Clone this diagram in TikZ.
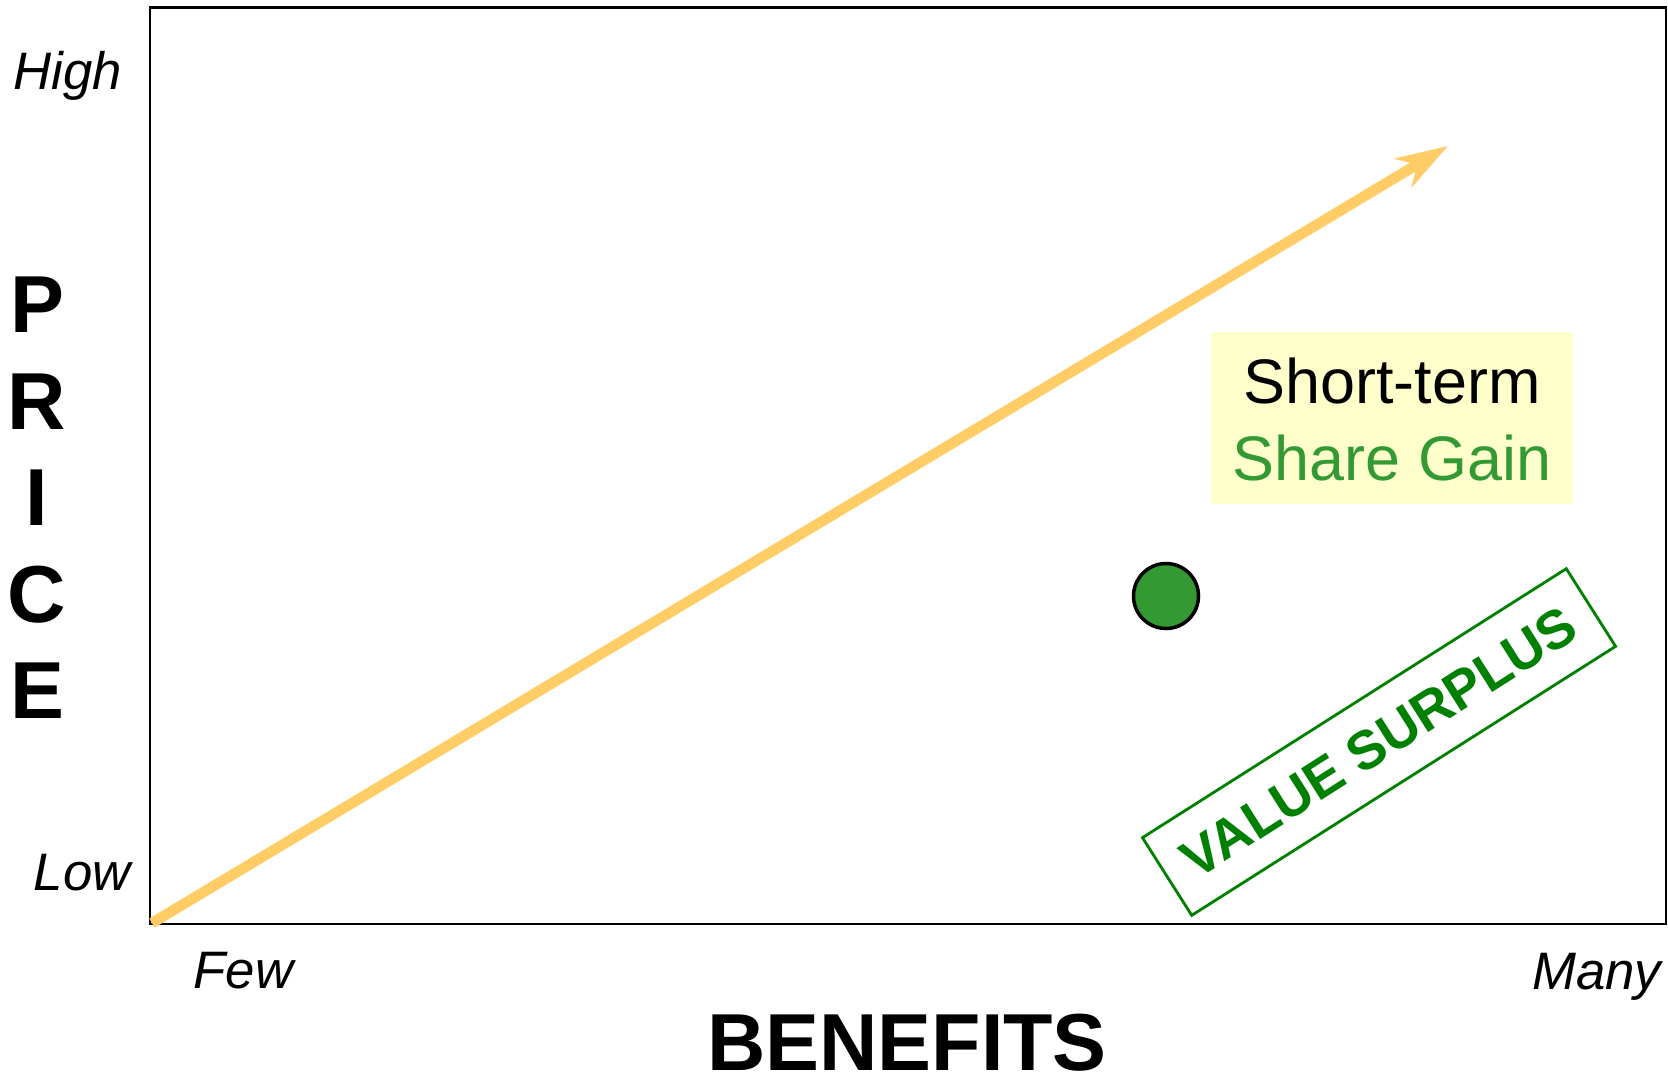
\documentclass[tikz,border=0pt]{standalone}
\usepackage{fontspec}
\setmainfont{Liberation Sans}
\usetikzlibrary{arrows.meta}
\usetikzlibrary{positioning}

\definecolor{arrowgold}{HTML}{FFCC66}
\definecolor{dotgreen}{HTML}{339933}
\definecolor{boxyellow}{HTML}{FFFFCC}
\definecolor{surplusgreen}{HTML}{008000}

\tikzset{
 axislabel/.style={inner sep=0, font=\itshape\fontsize{15}{18}\selectfont},
 axistitle/.style={inner sep=0, font=\bfseries\fontsize{23}{27}\selectfont},
 gaintext/.style={inner sep=0, font=\fontsize{17.9}{21.9}\selectfont}
}

\begin{document}
\begin{tikzpicture}
\useasboundingbox (0,0) rectangle (16.68,-10.76);
\draw[black, line width=0.8pt] (1.50,-0.075) rectangle (16.66,-9.24);

% axis ends
\node[axislabel, anchor=base west] (high) at (0.13,-0.89) {High};
\node[axislabel, anchor=base west] (low) at (0.33,-8.90) {Low};
\node[axislabel, anchor=base west] (few) at (1.93,-9.88) {Few};
\node[axislabel, anchor=base east] (many) at (16.62,-9.89) {Many};

% axis titles
\node[axistitle, anchor=base] (benefits) at (9.07,-10.70) {BENEFITS};
\foreach \letter/\y in {P/3.32, R/4.29, I/5.25, C/6.22, E/7.18} {
 \node[axistitle, anchor=base] (price-\letter) at (0.37,-\y) {\letter};
}

% trend line
\coordinate (origin) at (1.52,-9.23);
\coordinate (trendtip) at (14.48,-1.46);
\draw[arrowgold, line width=3pt, -{Stealth[length=5.2mm, width=3.3mm, inset=1.6mm]}] (origin) -- (trendtip);

\node[fill=boxyellow, minimum width=3.62cm, minimum height=1.72cm, inner sep=0] (gainbox) at (13.92,-4.18) {};
\node[gaintext, anchor=base] (shortterm) at (13.92,-4.03) {Short-term};
\node[gaintext, anchor=base, text=dotgreen] (sharegain) at (13.92,-4.80) {Share Gain};

\node[circle, draw=black, fill=dotgreen, line width=1pt, minimum size=0.65cm, inner sep=0] (product) at (11.66,-5.96) {};

\node[draw=surplusgreen, text=surplusgreen, line width=0.8pt, rotate=32.4, minimum width=5.02cm, minimum height=0.92cm, inner sep=0, font=\bfseries\fontsize{15.5}{18}\selectfont] (surplus) at (13.79,-7.42) {VALUE SURPLUS};
\end{tikzpicture}
\end{document}
